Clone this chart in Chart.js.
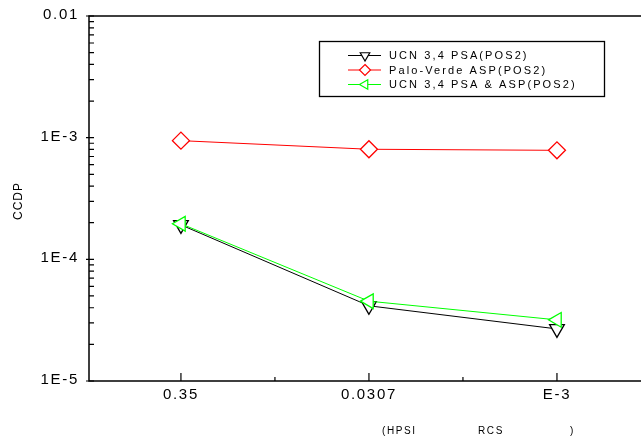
<!DOCTYPE html>
<html><head><meta charset="utf-8">
<script src="https://cdn.jsdelivr.net/npm/chart.js@4/dist/chart.umd.min.js"></script>
<style>html,body{margin:0;padding:0;background:#fff;overflow:hidden}#wrap{width:641px;height:443px;position:relative}</style>
</head><body><div id="wrap"><canvas id="c" width="641" height="443"></canvas></div>
<script>
// ---- data ----
const categories = ['0.35', '0.0307', 'E-3'];
const seriesNames = ['UCN 3,4 PSA(POS2)', 'Palo-Verde ASP(POS2)', 'UCN 3,4 PSA & ASP(POS2)'];
const ucnPsa = [1.92e-4, 4.15e-5, 2.68e-5];
const paloVerdeAsp = [9.45e-4, 8.03e-4, 7.87e-4];
const ucnPsaAsp = [1.96e-4, 4.53e-5, 3.18e-5];
const yDecades = [1e-5, 1e-4, 1e-3, 1e-2];
const yTickLabels = ['1E-5', '1E-4', '1E-3', '0.01'];
const yAxisTitle = 'CCDP';
const xAxisTitleParts = ['(HPSI', 'RCS', ')'];

const FONT = '"Liberation Sans", Arial, sans-serif';
const toPts = arr => arr.map((v, i) => ({x: i, y: v}));

const styles = [
  {color: '#000000', shape: 'triangle', rot: 180, order: 2},
  {color: '#ff0000', shape: 'rectRot', rot: 0, order: 1},
  {color: '#00ff00', shape: 'triangle', rot: 270, order: 0}
];
const seriesData = [ucnPsa, paloVerdeAsp, ucnPsaAsp];

function marker(ctx, shape, rot, x, y, r) {
  ctx.beginPath();
  if (shape === 'rectRot') {
    ctx.moveTo(x, y - r); ctx.lineTo(x + r, y); ctx.lineTo(x, y + r); ctx.lineTo(x - r, y);
  } else {
    let a = rot * Math.PI / 180;
    for (let k = 0; k < 3; k++) {
      const px = x + Math.sin(a) * r, py = y - Math.cos(a) * r;
      if (k === 0) ctx.moveTo(px, py); else ctx.lineTo(px, py);
      a += 2 * Math.PI / 3;
    }
  }
  ctx.closePath();
}

const decor = {
  id: 'decor',
  beforeDraw(chart) {
    chart.ctx.letterSpacing = '1.7px';
  },
  afterDraw(chart) {
    const ctx = chart.ctx, a = chart.chartArea;
    const xs = chart.scales.x, ys = chart.scales.y;
    ctx.save();
    ctx.letterSpacing = '0px';
    ctx.strokeStyle = '#000';
    ctx.lineWidth = 1.5;
    // frame
    ctx.beginPath();
    ctx.moveTo(a.right + 2, a.top); ctx.lineTo(a.left, a.top); ctx.lineTo(a.left, a.bottom); ctx.lineTo(a.right + 2, a.bottom);
    ctx.stroke();
    // y ticks
    ctx.lineWidth = 1.2;
    ctx.beginPath();
    for (let d = 0; d < yDecades.length; d++) {
      const py = ys.getPixelForValue(yDecades[d]);
      ctx.moveTo(a.left - 3, py); ctx.lineTo(a.left + 5, py);
      if (d < yDecades.length - 1) {
        for (let k = 2; k <= 9; k++) {
          const p = ys.getPixelForValue(yDecades[d] * k);
          ctx.moveTo(a.left, p); ctx.lineTo(a.left + 5, p);
        }
      }
    }
    // x ticks
    for (let i = 0; i < categories.length; i++) {
      const px = xs.getPixelForValue(i);
      ctx.moveTo(px, a.bottom); ctx.lineTo(px, a.bottom - 8);
      if (i < categories.length - 1) {
        const pm = xs.getPixelForValue(i + 0.5);
        ctx.moveTo(pm, a.bottom); ctx.lineTo(pm, a.bottom - 4);
      }
    }
    ctx.stroke();

    // y axis title
    ctx.fillStyle = '#000';
    ctx.font = '12px ' + FONT;
    ctx.letterSpacing = '1px';
    ctx.textAlign = 'center';
    ctx.textBaseline = 'middle';
    ctx.save();
    ctx.translate(19, 201);
    ctx.rotate(-Math.PI / 2);
    ctx.fillText(yAxisTitle, 0, 0);
    ctx.restore();

    // x axis title (spread pieces)
    ctx.font = '10px ' + FONT;
    ctx.letterSpacing = '1.6px';
    ctx.textAlign = 'left';
    ctx.textBaseline = 'alphabetic';
    const tx = [382, 478, 570];
    xAxisTitleParts.forEach((t, i) => ctx.fillText(t, tx[i], 434));

    // legend
    ctx.lineWidth = 1.3;
    ctx.strokeRect(319.5, 41.5, 285, 55);
    ctx.font = '11px ' + FONT;
    ctx.letterSpacing = '2.1px';
    ctx.textBaseline = 'middle';
    const rows = [55.5, 70, 84.5];
    for (let s = 0; s < 3; s++) {
      const st = styles[s], y = rows[s];
      ctx.strokeStyle = st.color;
      ctx.lineWidth = 1;
      ctx.beginPath(); ctx.moveTo(348, y); ctx.lineTo(381, y); ctx.stroke();
      marker(ctx, st.shape, st.rot, 365, y, 5.5);
      ctx.fillStyle = '#fff'; ctx.fill();
      ctx.lineWidth = 1.2; ctx.stroke();
      ctx.fillStyle = '#000';
      ctx.fillText(seriesNames[s], 389, y + 0.5);
    }
    ctx.restore();
  }
};

new Chart(document.getElementById('c'), {
  type: 'line',
  data: {
    datasets: seriesData.map((d, i) => ({
      label: seriesNames[i],
      data: toPts(d),
      order: styles[i].order,
      borderColor: styles[i].color,
      borderWidth: 1,
      tension: 0,
      fill: false,
      pointStyle: styles[i].shape,
      rotation: styles[i].rot,
      pointRadius: 8.5,
      pointBorderWidth: 1.3,
      pointBackgroundColor: '#ffffff',
      pointBorderColor: styles[i].color
    }))
  },
  options: {
    responsive: false,
    animation: false,
    devicePixelRatio: 1,
    layout: {autoPadding: false, padding: {top: 16, left: 0, right: 0, bottom: 0}},
    plugins: {legend: {display: false}, tooltip: {enabled: false}},
    scales: {
      x: {
        type: 'linear', min: -0.489, max: 2.447,
        grid: {display: false, drawTicks: false},
        border: {display: false},
        afterBuildTicks: s => { s.ticks = categories.map((c, i) => ({value: i})); },
        afterFit: s => { s.height = 62; s.paddingLeft = 0; s.paddingRight = 0; },
        ticks: {
          autoSkip: false, maxRotation: 0,
          callback: v => categories[v] ?? '',
          color: '#000', font: {family: FONT, size: 15}, padding: 5
        }
      },
      y: {
        type: 'logarithmic', min: 1e-5, max: 1e-2,
        grid: {display: false, drawTicks: false},
        border: {display: false},
        afterBuildTicks: s => { s.ticks = yDecades.map(v => ({value: v})); },
        afterFit: s => { s.width = 89; s.paddingTop = 0; s.paddingBottom = 0; },
        ticks: {
          autoSkip: false,
          callback: v => { const k = yDecades.findIndex(d => Math.abs(Math.log10(d) - Math.log10(v)) < 1e-6); return k >= 0 ? yTickLabels[k] : ''; },
          color: '#000', font: {family: FONT, size: 15}, padding: 10, labelOffset: -1
        }
      }
    }
  },
  plugins: [decor]
});
</script>
</body></html>
